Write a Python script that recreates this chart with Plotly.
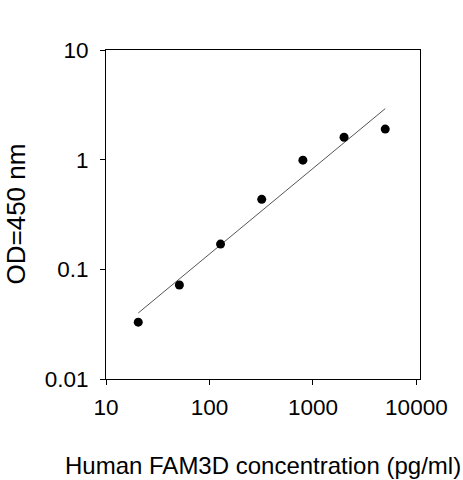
import plotly.graph_objects as go

# Standard concentrations (pg/ml) and measured OD at 450 nm
concentration = [20.5, 51.2, 128, 320, 800, 2000, 5000]
od450 = [0.033, 0.072, 0.170, 0.435, 0.99, 1.60, 1.90]

# Fitted line endpoints
fit_x = [20.5, 5000]
fit_y = [0.040, 2.92]

x_ticks = [10, 100, 1000, 10000]
x_tick_labels = ["10", "100", "1000", "10000"]
y_ticks = [0.01, 0.1, 1, 10]
y_tick_labels = ["0.01", "0.1", "1", "10"]

FONT = "Liberation Sans, Arial, sans-serif"

fig = go.Figure()
fig.add_trace(go.Scatter(
    x=fit_x, y=fit_y, mode="lines",
    line=dict(color="#555555", width=1),
    showlegend=False, hoverinfo="skip",
))
fig.add_trace(go.Scatter(
    x=concentration, y=od450, mode="markers",
    marker=dict(color="black", size=9),
    showlegend=False,
))

fig.update_layout(
    width=463, height=480,
    margin=dict(l=106, r=43, t=50, b=101),
    paper_bgcolor="white", plot_bgcolor="white",
    font=dict(family=FONT, color="black"),
    xaxis=dict(
        type="log", range=[1, 4.035],
        tickvals=x_ticks, ticktext=x_tick_labels,
        ticks="outside", ticklen=5, tickwidth=1, tickcolor="black",
        showline=True, linecolor="black", linewidth=1, mirror=True,
        showgrid=False, zeroline=False, ticklabelstandoff=3,
        tickfont=dict(size=22.5, family=FONT, color="black"),
    ),
    yaxis=dict(
        type="log", range=[-2, 1],
        tickvals=y_ticks, ticktext=y_tick_labels,
        ticks="outside", ticklen=5, tickwidth=1, tickcolor="black",
        showline=True, linecolor="black", linewidth=1, mirror=True,
        showgrid=False, zeroline=False, ticklabelstandoff=7,
        tickfont=dict(size=22.5, family=FONT, color="black"),
    ),
    annotations=[
        dict(text="Human FAM3D concentration (pg/ml)", xref="paper", yref="paper",
             x=0.5, y=0, xanchor="center", yanchor="middle", yshift=-86,
             showarrow=False, font=dict(size=24, family=FONT, color="black")),
        dict(text="OD=450 nm", xref="paper", yref="paper",
             x=0, y=0.5, xanchor="center", yanchor="middle", xshift=-91,
             textangle=-90, showarrow=False,
             font=dict(size=26, family=FONT, color="black")),
    ],
)

fig.write_html("out.html", config={"displayModeBar": False},
               post_script="document.body.style.margin='0';")
